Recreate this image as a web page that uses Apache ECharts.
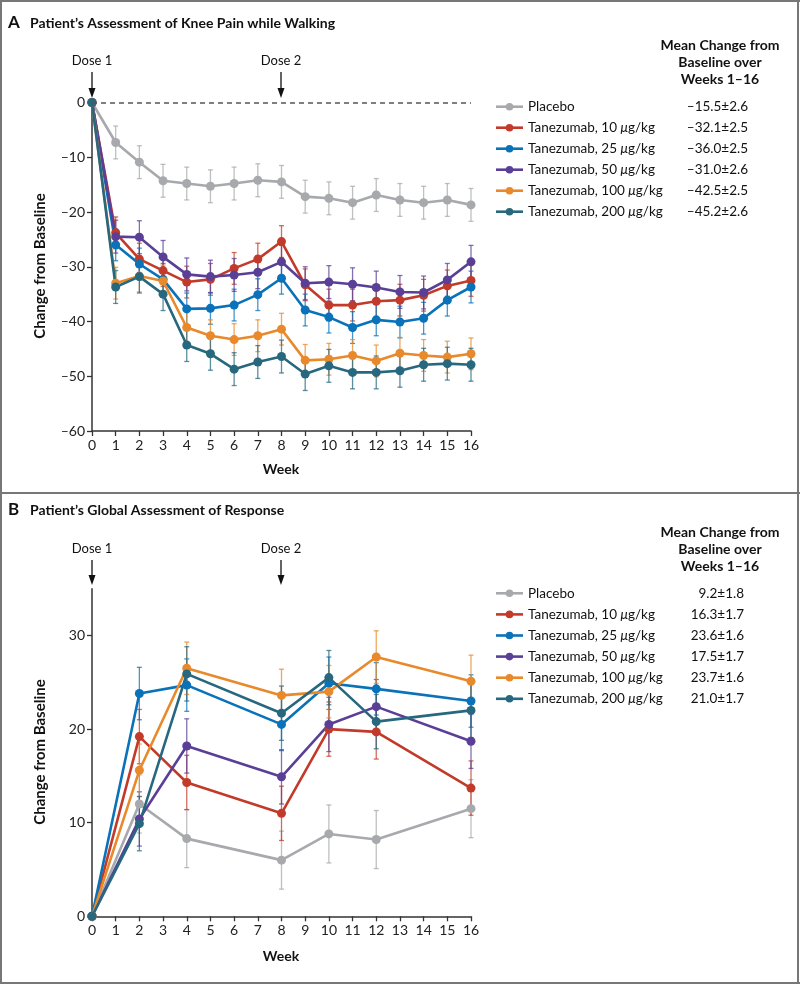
<!DOCTYPE html>
<html><head><meta charset="utf-8">
<script src="https://cdn.jsdelivr.net/npm/echarts@6/dist/echarts.min.js"></script>
<style>html,body{margin:0;padding:0;background:#fff}#c{width:800px;height:984px}</style>
</head><body><div id="c"></div>
<script>
// ---------- data ----------
var weeksA = [0,1,2,3,4,5,6,7,8,9,10,11,12,13,14,15,16];
var placeboA = [0,-7.3,-10.9,-14.3,-14.8,-15.3,-14.8,-14.2,-14.5,-17.2,-17.5,-18.3,-16.9,-17.8,-18.3,-17.8,-18.7];
var t10A  = [0,-23.8,-28.6,-30.7,-32.8,-32.3,-30.3,-28.6,-25.4,-33.3,-37.0,-37.0,-36.3,-36.1,-35.2,-33.5,-32.5];
var t25A  = [0,-26.0,-29.5,-32.3,-37.7,-37.6,-37.0,-35.1,-32.1,-37.9,-39.2,-41.1,-39.7,-40.1,-39.4,-36.1,-33.7];
var t50A  = [0,-24.5,-24.6,-28.2,-31.4,-31.8,-31.5,-31.0,-29.1,-33.0,-32.8,-33.2,-33.8,-34.6,-34.7,-32.4,-29.1];
var t100A = [0,-33.0,-31.7,-32.6,-41.1,-42.6,-43.3,-42.6,-41.4,-47.1,-46.9,-46.2,-47.2,-45.8,-46.2,-46.5,-45.9];
var t200A = [0,-33.7,-31.8,-35.0,-44.3,-45.9,-48.7,-47.4,-46.4,-49.6,-48.1,-49.3,-49.3,-49.0,-47.9,-47.7,-47.9];
var seA = [3.0, 2.9, 2.9, 3.0, 2.9, 3.0];

var weeksB = [0,2,4,8,10,12,16];
var placeboB = [0,12.0,8.3,6.0,8.8,8.2,11.5];
var t10B  = [0,19.2,14.3,11.0,20.0,19.7,13.7];
var t25B  = [0,23.8,24.7,20.5,24.9,24.3,23.0];
var t50B  = [0,10.4,18.2,14.9,20.5,22.4,18.7];
var t100B = [0,15.6,26.5,23.6,24.0,27.7,25.1];
var t200B = [0,9.9,25.9,21.7,25.5,20.8,22.0];
var seB = [3.1, 2.9, 2.8, 2.9, 2.8, 2.9];

var groupNames = ['Placebo','Tanezumab, 10 μg/kg','Tanezumab, 25 μg/kg','Tanezumab, 50 μg/kg','Tanezumab, 100 μg/kg','Tanezumab, 200 μg/kg'];
var meanA = ['–15.5±2.6','–32.1±2.5','–36.0±2.5','–31.0±2.6','–42.5±2.5','–45.2±2.6'];
var meanB = ['9.2±1.8','16.3±1.7','23.6±1.6','17.5±1.7','23.7±1.6','21.0±1.7'];
var yTicksA = [-60,-50,-40,-30,-20,-10,0];
var yTicksB = [0,10,20,30];
var titleA = "Patient’s Assessment of Knee Pain while Walking";
var titleB = "Patient’s Global Assessment of Response";

// ---------- style ----------
var colors = ['#a7a9ac','#c23b2a','#0a72b8','#5a3f97','#e8892b','#27687f'];
var FONT = 'Lato';
var seriesA = [placeboA,t10A,t25A,t50A,t100A,t200A];
var seriesB = [placeboB,t10B,t25B,t50B,t100B,t200B];

var chart = echarts.init(document.getElementById('c'), null, {renderer:'canvas'});

function errRender(color){
  return function(params, api){
    var x = api.value(0), y = api.value(1), e = api.value(2);
    var hi = api.coord([x, y + e]), lo = api.coord([x, y - e]);
    var w = 2.5;
    var st = {stroke: color, lineWidth: 1.3, opacity: 0.75};
    return {type:'group', children:[
      {type:'line', shape:{x1:hi[0],y1:hi[1],x2:lo[0],y2:lo[1]}, style:st},
      {type:'line', shape:{x1:hi[0]-w,y1:hi[1],x2:hi[0]+w,y2:hi[1]}, style:st},
      {type:'line', shape:{x1:lo[0]-w,y1:lo[1],x2:lo[0]+w,y2:lo[1]}, style:st}
    ]};
  };
}

var series = [];
function addPanel(weeks, data, se, idx){
  data.forEach(function(vals, i){
    var err = [];
    for (var k = 0; k < weeks.length; k++) if (weeks[k] !== 0) err.push([weeks[k], vals[k], se[i]]);
    series.push({type:'custom', xAxisIndex:idx, yAxisIndex:idx, renderItem: errRender(colors[i]), data: err, z: 2, silent:true});
  });
  data.forEach(function(vals, i){
    series.push({type:'line', name: groupNames[i], xAxisIndex:idx, yAxisIndex:idx,
      data: weeks.map(function(w,k){return [w, vals[k]];}),
      symbol:'circle', symbolSize:9, lineStyle:{width:2.6, color:colors[i]},
      itemStyle:{color:colors[i]}, z:3, silent:true,
      markLine: (idx===0 && i===0) ? {symbol:'none', silent:true, label:{show:false},
        lineStyle:{type:[5,4], color:'#555', width:1.5}, data:[{yAxis:0}]} : undefined
    });
  });
}
addPanel(weeksA, seriesA, seA, 0);
addPanel(weeksB, seriesB, seB, 1);

var axisCommon = {
  axisLine:{show:true, onZero:false, lineStyle:{color:'#333', width:1.5}},
  axisTick:{show:true, length:5, lineStyle:{color:'#333', width:1.3}},
  axisLabel:{color:'#222', fontFamily:FONT, fontSize:14},
  splitLine:{show:false}
};
function xAx(idx){
  return Object.assign({}, axisCommon, {type:'value', gridIndex:idx, min:0, max:16, interval:1,
    axisLabel:Object.assign({}, axisCommon.axisLabel, {margin:7})});
}

// ---------- graphics ----------
var g = [];
// borders
g.push({type:'line', shape:{x1:0,y1:1,x2:800,y2:1}, style:{stroke:'#777', lineWidth:2}});
g.push({type:'line', shape:{x1:1,y1:0,x2:1,y2:984}, style:{stroke:'#777', lineWidth:2}});
g.push({type:'line', shape:{x1:798,y1:0,x2:798,y2:984}, style:{stroke:'#777', lineWidth:2}});
g.push({type:'line', shape:{x1:0,y1:493,x2:800,y2:493}, style:{stroke:'#777', lineWidth:2}});
g.push({type:'line', shape:{x1:0,y1:983,x2:800,y2:983}, style:{stroke:'#777', lineWidth:2}});

function titleG(letter, text, y){
  g.push({type:'text', x:8, y:y, style:{text:letter, font:'bold 17px '+FONT, fill:'#111', verticalAlign:'middle'}});
  g.push({type:'text', x:30, y:y, style:{text:text, font:'bold 14px '+FONT, fill:'#111', verticalAlign:'middle'}});
}
titleG('A', titleA, 23);
titleG('B', titleB, 510);

function doseG(label, x, ty, y1, y2){
  g.push({type:'text', x:x, y:ty, style:{text:label, font:'13px '+FONT, fill:'#111', align:'center', verticalAlign:'middle'}});
  g.push({type:'line', shape:{x1:x,y1:y1,x2:x,y2:y2-6}, style:{stroke:'#111', lineWidth:1.3}});
  g.push({type:'polygon', shape:{points:[[x-3.5,y2-10],[x+3.5,y2-10],[x,y2]]}, style:{fill:'#111'}});
}
doseG('Dose 1', 92, 61, 72, 98);
doseG('Dose 2', 281, 61, 72, 98);
doseG('Dose 1', 92, 549, 560, 585);
doseG('Dose 2', 281, 549, 560, 585);

function axisNames(cy, wy){
  g.push({type:'text', x:40, y:cy, rotation:Math.PI/2, style:{text:'Change from Baseline', font:'bold 15px '+FONT, fill:'#111', align:'center', verticalAlign:'middle'}});
  g.push({type:'text', x:281, y:wy, style:{text:'Week', font:'bold 14px '+FONT, fill:'#111', align:'center', verticalAlign:'middle'}});
}
axisNames(266, 469);
axisNames(752, 956);

function legendG(headerY, rowY, rowStep, valX, means){
  var hdr = ['Mean Change from','Baseline over','Weeks 1–16'];
  hdr.forEach(function(t, i){
    g.push({type:'text', x:720, y:headerY + i*16.7, style:{text:t, font:'bold 14px '+FONT, fill:'#111', align:'center', verticalAlign:'middle'}});
  });
  groupNames.forEach(function(n, i){
    var y = rowY + i*rowStep;
    g.push({type:'line', shape:{x1:496,y1:y,x2:523,y2:y}, style:{stroke:colors[i], lineWidth:2.6}});
    g.push({type:'circle', shape:{cx:509.5, cy:y, r:3.8}, style:{fill:colors[i]}});
    var parts = n.split('μ');
    var txt = parts.length > 1 ? '{r|' + parts[0] + '}{i|μ}{r|' + parts[1] + '}' : '{r|' + n + '}';
    g.push({type:'text', x:528, y:y, style:{text:txt, verticalAlign:'middle', fill:'#111',
      rich:{r:{font:'13.5px '+FONT, fill:'#111'}, i:{font:'italic 13.5px '+FONT, fill:'#111'}}}});
    g.push({type:'text', x:valX, y:y, style:{text:means[i], font:'13.5px '+FONT, fill:'#111', align:'right', verticalAlign:'middle'}});
  });
}
legendG(45.7, 106.7, 21, 748, meanA);
legendG(532.7, 593.3, 21.1, 744, meanB);

chart.setOption({
  animation:false,
  backgroundColor:'#fff',
  textStyle:{fontFamily:FONT},
  grid:[
    {left:92, top:102.5, width:379, height:328.5, containLabel:false},
    {left:92, top:588.7, width:379, height:327.6, containLabel:false}
  ],
  xAxis:[xAx(0), xAx(1)],
  yAxis:[
    Object.assign({}, axisCommon, {type:'value', gridIndex:0, min:-60, max:0, interval:10,
      axisLabel:Object.assign({}, axisCommon.axisLabel, {margin:7, formatter:function(v){return v<0?'–'+Math.abs(v):String(v);}})}),
    Object.assign({}, axisCommon, {type:'value', gridIndex:1, min:0, max:35,
      axisTick:Object.assign({}, axisCommon.axisTick, {customValues:yTicksB}),
      axisLabel:Object.assign({}, axisCommon.axisLabel, {margin:7, customValues:yTicksB})})
  ],
  series: series,
  graphic: g
});
</script></body></html>
